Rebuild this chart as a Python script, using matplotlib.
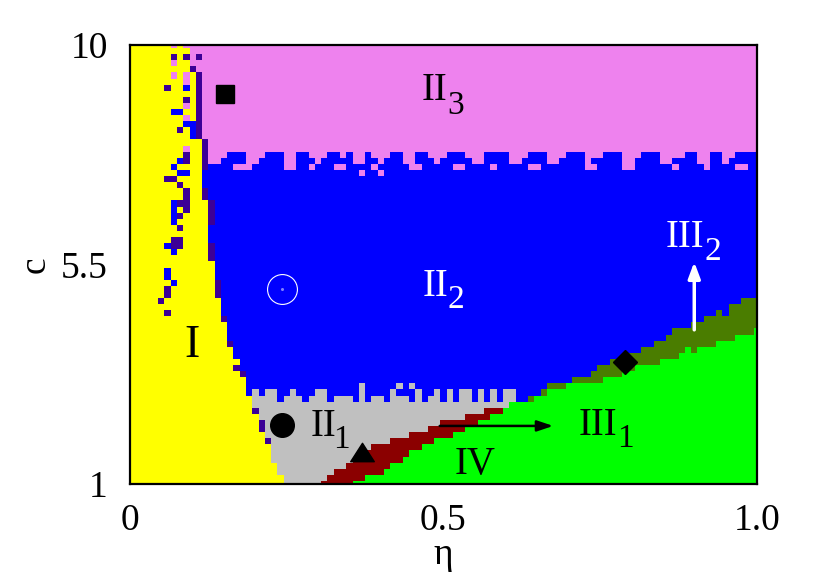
import numpy as np
import matplotlib.pyplot as plt
from matplotlib.colors import ListedColormap
from matplotlib.path import Path

# grid of the phase diagram (cell centres)
eta = np.round(np.arange(0, 101) * 0.01, 2)
c = np.round(1 + np.arange(0, 73) * 0.125, 3)

# phase codes: Y=I, P=II3, B=II2, D=dark boundary, G=II1, R=III1, O=III2, L=IV
Y, P, B, D, G, R, O, L = range(8)
colors = ['#ffff00', '#ee82ee', '#0000ff', '#3c0096', '#c0c0c0', '#8b0000', '#4a7d00', '#00ff00']

# right edge of region I (c -> eta)
yellow_c = [1.0, 1.3, 1.7, 2.0, 2.3, 2.7, 3.0, 3.35, 3.85, 4.35, 4.8, 5.5, 6.35, 7.4, 8.8, 10.0]
yellow_eta = [0.245, 0.235, 0.225, 0.215, 0.205, 0.195, 0.185, 0.175, 0.163, 0.153, 0.143, 0.135, 0.125, 0.115, 0.105, 0.095]

# lower edge of II2 on the right (eta -> c)
blue_eta = [0.0, 0.646, 0.665, 0.729, 0.761, 0.809, 0.845, 0.888, 0.936, 0.968, 1.0]
blue_c = [2.81, 2.81, 2.99, 3.19, 3.48, 3.71, 3.95, 4.22, 4.50, 4.71, 4.83]

# upper edge of the dark red strip (eta -> c)
red_eta = [0.30, 0.308, 0.335, 0.388, 0.442, 0.494, 0.537, 0.585, 0.60]
red_c = [0.94, 1.0, 1.33, 1.76, 1.96, 2.25, 2.37, 2.56, 2.6]

# upper edge of the green region IV (eta -> c)
green_eta = [0.351, 0.399, 0.451, 0.483, 0.537, 0.585, 0.622, 0.691, 0.754, 0.809, 0.861, 0.904, 0.941, 0.973, 1.0]
green_c = [1.0, 1.23, 1.64, 1.84, 2.15, 2.46, 2.72, 2.99, 3.13, 3.38, 3.54, 3.75, 3.89, 4.06, 4.16]

# rows of the ragged II3 / II2 border
band_c = [7.75, 7.625, 7.5]
band_rows = [
    "pppppppppp" "ppbpppbbbp" "ppbbbppbbp" "ppbbpbppbp" "ppbbppbbpp"
    "pbbbpppbbb" "bpppbbbppp" "bbbpppbbbp" "ppbbbppppb" "bppbbppbbb" "b",
    "pppppppppp" "bbbppbbbbp" "pbbbbppbbb" "pbbbbbppbb" "pbbbppbbbp"
    "bbbbbppbbb" "bppbbbbppb" "bbbpbbbbbp" "pbbbbppbbb" "bppbbpbbbb" "b",
    "pppppppppp" "bbbbbbbppp" "bbbbbppbbp" "bbbppbbbbp" "bbbbbppbbb"
    "bbppbbbbpb" "bbbbppbbbb" "bbbppbbbbp" "pbbbbbbpbb" "bbpbbbbppb" "b",
]

# ragged II2 / II1 border
notch_blue_275 = [0.24, 0.28, 0.32, 0.36, 0.38, 0.41, 0.45, 0.47, 0.50, 0.52, 0.55, 0.57, 0.59, 0.62, 0.63, 0.64]
notch_gray_2875 = [0.20, 0.22, 0.23, 0.26, 0.30, 0.31, 0.37, 0.42, 0.46, 0.49, 0.51, 0.53, 0.54, 0.56, 0.58, 0.60, 0.61]
notch_gray_3 = [0.37, 0.43, 0.45]

# dark cells along the edge of region I
strip_ranges = [(6.35, 7.0), (7.4, 9.6)]

# isolated cells (eta, c, phase)
speckles = [
    (0.07, 10.0, P), (0.07, 9.75, D), (0.11, 9.75, D), (0.07, 9.625, P), (0.07, 9.375, P),
    (0.06, 9.125, D), (0.09, 10.0, P), (0.09, 9.75, D), (0.09, 9.375, P), (0.09, 9.25, P),
    (0.09, 9.125, B), (0.09, 8.875, D), (0.09, 8.75, P), (0.09, 8.5, P), (0.09, 8.375, B),
    (0.07, 8.625, B), (0.08, 8.625, B), (0.08, 8.25, D), (0.10, 8.375, B), (0.10, 8.25, B),
    (0.10, 8.125, B), (0.09, 7.875, P), (0.09, 7.75, D), (0.09, 7.625, D), (0.08, 7.625, B),
    (0.07, 7.5, B), (0.08, 7.375, B), (0.09, 7.375, B), (0.06, 7.25, D), (0.07, 7.25, D),
    (0.08, 7.125, D), (0.09, 7.0, D), (0.09, 6.875, D), (0.09, 6.75, D), (0.09, 6.625, D),
    (0.07, 6.75, B), (0.08, 6.75, D), (0.07, 6.625, B), (0.07, 6.5, B), (0.07, 6.375, B),
    (0.08, 6.5, D), (0.08, 6.25, D), (0.06, 5.875, B), (0.07, 5.875, D), (0.08, 5.875, D),
    (0.07, 6.0, D), (0.08, 6.0, D), (0.07, 5.75, B), (0.06, 5.375, B), (0.06, 5.25, B),
    (0.07, 5.125, B), (0.06, 5.0, D), (0.06, 4.875, D), (0.05, 4.75, D), (0.06, 4.5, D),
    (0.13, 5.625, D), (0.13, 5.75, D), (0.13, 5.875, D), (0.14, 4.875, D), (0.14, 5.0, D),
    (0.14, 5.125, D), (0.15, 4.375, D), (0.16, 3.875, D), (0.17, 3.375, D), (0.18, 3.25, D),
    (0.20, 2.5, D), (0.21, 2.125, D), (0.21, 2.25, D), (0.22, 1.875, D),
    (0.37, 7.375, P), (0.40, 7.375, P),
    (0.87, 4.125, O), (0.95, 4.5, B), (0.89, 3.75, L), (0.42, 1.5, R), (0.64, 2.75, O),
]

# build the phase grid
Z = np.zeros((len(c), len(eta)), dtype=int)
for i, ci in enumerate(c):
    edge = np.interp(ci, yellow_c, yellow_eta)
    for j, ej in enumerate(eta):
        if ej < edge:
            Z[i, j] = Y
        elif ci > 7.8:
            Z[i, j] = P
        elif ci in band_c:
            Z[i, j] = P if band_rows[band_c.index(ci)][j] == 'p' else B
        elif ci > np.interp(ej, blue_eta, blue_c):
            Z[i, j] = B
        elif ci < np.interp(ej, green_eta, green_c):
            Z[i, j] = L
        elif ci < np.interp(ej, red_eta, red_c):
            Z[i, j] = R
        elif ej > 0.645:
            Z[i, j] = O
        else:
            Z[i, j] = G
    for lo, hi in strip_ranges:
        if lo <= ci <= hi:
            Z[i, np.argmax(Z[i] != Y)] = D


def cell(e, cc):
    return int(round((cc - 1) / 0.125)), int(round(e / 0.01))


for e in notch_blue_275:
    Z[cell(e, 2.75)] = B
for e in notch_gray_2875:
    Z[cell(e, 2.875)] = G
for e in notch_gray_3:
    Z[cell(e, 3.0)] = G
for e, cc, ph in speckles:
    Z[cell(e, cc)] = ph

plt.rcParams['font.family'] = 'Liberation Serif'
fig = plt.figure(figsize=(8.3, 5.81), dpi=100)
ax = fig.add_axes([0.1566, 0.167, 0.7554, 0.7556])

eta_edges = np.append(eta - 0.005, 1.005)
c_edges = np.append(c - 0.0625, 10.0625)
ax.pcolormesh(eta_edges, c_edges, Z, cmap=ListedColormap(colors), vmin=-0.5, vmax=7.5)

# markers
ax.plot(0.152, 9.0, 's', color='k', markersize=13)
ax.plot(0.242, 5.0, 'o', mfc='none', mec='white', mew=0.8, markersize=21.5)
ax.plot(0.242, 5.0, 'o', color='#8080ff', markersize=1.2)
ax.plot(0.242, 2.21, 'o', color='k', markersize=17)
tri = Path([(-1, -0.78), (1, -0.78), (0, 0.78), (-1, -0.78)], [1, 2, 2, 79])
ax.plot(0.37, 1.66, marker=tri, color='k', markersize=17, linestyle='none')
ax.plot(0.789, 3.5, 'D', color='k', markersize=12)

# arrows
ax.annotate('', xy=(0.675, 2.19), xytext=(0.494, 2.19),
            arrowprops=dict(arrowstyle='-|>,head_length=0.8,head_width=0.27', color='k',
                            lw=1.8, mutation_scale=12, shrinkA=0, shrinkB=0))
ax.annotate('', xy=(0.9, 5.55), xytext=(0.9, 4.16),
            arrowprops=dict(arrowstyle='-|>,head_length=0.8,head_width=0.3', color='white',
                            lw=2.5, mutation_scale=12, shrinkA=0, shrinkB=0))

# region labels
lab = dict(ha='center', va='center', fontsize=28)
sub = dict(ha='center', va='center', fontsize=24)
ax.text(0.486, 9.07, 'II', color='k', **lab)
ax.text(0.52, 8.76, '3', color='k', **sub)
ax.text(0.487, 5.04, 'II', color='white', **lab)
ax.text(0.52, 4.77, '2', color='white', **sub)
ax.text(0.099, 3.83, 'I', color='k', ha='center', va='center', fontsize=33)
ax.text(0.308, 2.17, 'II', color='k', **lab)
ax.text(0.338, 1.90, '1', color='k', **sub)
ax.text(0.746, 2.20, 'III', color='k', **lab)
ax.text(0.79, 1.93, '1', color='k', **sub)
ax.text(0.55, 1.39, 'IV', color='k', **lab)
ax.text(0.885, 6.06, 'III', color='white', **lab)
ax.text(0.929, 5.76, '2', color='white', **sub)

ax.set_xlim(0, 1)
ax.set_ylim(1, 10)
ax.set_xticks([0, 0.5, 1.0])
ax.set_xticklabels(['0', '0.5', '1.0'])
ax.set_yticks([1, 5.5, 10])
ax.set_yticklabels(['1', '5.5', '10'])
ax.tick_params(length=0, labelsize=27)
ax.tick_params(axis='x', pad=14)
ax.tick_params(axis='y', pad=16)
ax.set_xlabel('η', fontsize=27, labelpad=0)
ax.set_ylabel('c', fontsize=27, labelpad=6)
for s in ax.spines.values():
    s.set_linewidth(1.6)

fig.savefig('out.png', dpi=100)
